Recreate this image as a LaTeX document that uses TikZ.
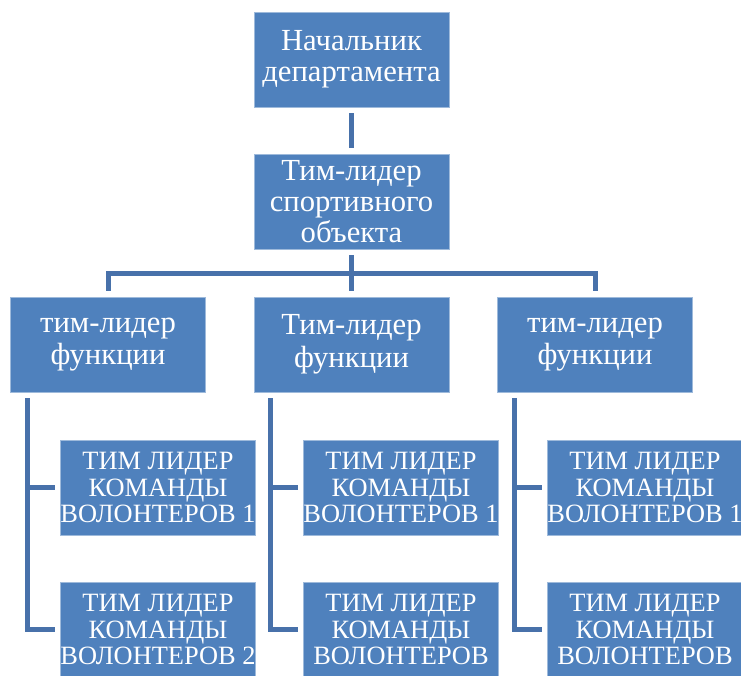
\documentclass[tikz,border=0pt]{standalone}
\usepackage{fontspec}
\setmainfont{Liberation Serif}
\definecolor{boxblue}{RGB}{79,129,189}
\definecolor{lineblue}{RGB}{72,113,170}

\begin{document}
\begin{tikzpicture}[x=0.75pt,y=-0.75pt,
  unit/.style={fill=boxblue,draw=boxblue!55!white,line width=0.5pt,text=white,
    minimum width=146.25pt,minimum height=71.25pt,inner sep=0pt,align=center,
    font=\fontsize{23}{23}\selectfont},
  func/.style={unit,font=\fontsize{23}{24.5}\selectfont},
  team/.style={unit,font=\fontsize{19.8}{20}\selectfont},
  link/.style={draw=lineblue,line width=3.75pt}]
\clip (0,0) rectangle (741,675);
\fill[white] (0,0) rectangle (741,675);
\node[unit] (head) at (351.5,59.5) {Начальник\\департамента};
\node[unit] (lead) at (351.5,201.5) {Тим-лидер\\спортивного\\объекта};
\node[func] (f1) at (108,344.5) {тим-лидер\\функции};
\node[func] (f2) at (351.5,344.5) {Тим-лидер\\функции};
\node[func] (f3) at (595,344.5) {тим-лидер\\функции};
\node[team] (t11) at (158,487.5) {ТИМ ЛИДЕР\\КОМАНДЫ\\ВОЛОНТЕРОВ 1};
\node[team] (t12) at (158,629.5) {ТИМ ЛИДЕР\\КОМАНДЫ\\ВОЛОНТЕРОВ 2};
\node[team] (t21) at (401,487.5) {ТИМ ЛИДЕР\\КОМАНДЫ\\ВОЛОНТЕРОВ 1};
\node[team] (t22) at (401,629.5) {ТИМ ЛИДЕР\\КОМАНДЫ\\ВОЛОНТЕРОВ};
\node[team] (t31) at (645,487.5) {ТИМ ЛИДЕР\\КОМАНДЫ\\ВОЛОНТЕРОВ 1};
\node[team] (t32) at (645,629.5) {ТИМ ЛИДЕР\\КОМАНДЫ\\ВОЛОНТЕРОВ};
\coordinate (bus) at (351.5,273);
\draw[link,shorten <=4.5pt,shorten >=4.5pt] (head) -- (lead);
\draw[link] ([yshift=-4.5pt]lead.south) -- ([yshift=4.5pt]f2.north);
\draw[link] ([yshift=4.5pt]f1.north) -- (f1.north |- bus) -- (f3.north |- bus) -- ([yshift=4.5pt]f3.north);
\draw[link] ([xshift=12.75pt,yshift=-4.5pt]f1.south west) |- ([xshift=-3.75pt]t12.west);
\draw[link] ([xshift=12.75pt]f1.south west |- t11.west) -- ([xshift=-3.75pt]t11.west);
\draw[link] ([xshift=12.75pt,yshift=-4.5pt]f2.south west) |- ([xshift=-3.75pt]t22.west);
\draw[link] ([xshift=12.75pt]f2.south west |- t21.west) -- ([xshift=-3.75pt]t21.west);
\draw[link] ([xshift=12.75pt,yshift=-4.5pt]f3.south west) |- ([xshift=-3.75pt]t32.west);
\draw[link] ([xshift=12.75pt]f3.south west |- t31.west) -- ([xshift=-3.75pt]t31.west);
\end{tikzpicture}
\end{document}
